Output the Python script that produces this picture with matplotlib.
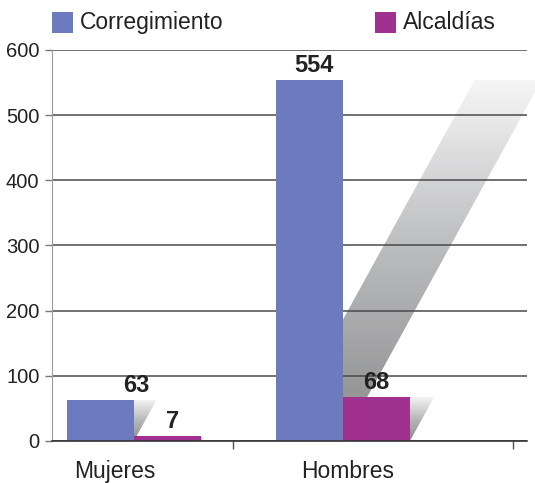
import numpy as np
import matplotlib.pyplot as plt
from matplotlib.patches import Polygon, Rectangle
from matplotlib.colors import LinearSegmentedColormap

# --- data ---
categories = ['Mujeres', 'Hombres']
series_names = ['Corregimiento', 'Alcaldías']
corregimiento = [63, 554]
alcaldias = [7, 68]
y_ticks = [0, 100, 200, 300, 400, 500, 600]

colors = ['#6b7bbd', '#a0318e']
# small nudges (points) for the value labels, as in the original
label_nudge = [[26, 4], [3, 0]]

plt.rcParams['font.family'] = ['Liberation Sans', 'DejaVu Sans']

fig = plt.figure(figsize=(5.35, 4.83), dpi=100)
W, H = 535, 483
ax = fig.add_axes([52 / W, (H - 441) / H, 475 / W, 391 / H])

x = np.arange(len(categories))
bw = 0.32
ax.set_xlim(-0.392, 1.88)
ax.set_ylim(0, 600)

# shear of the slanted shadow (data-x per data-y unit)
shear = 0.55 * (391 / 600) / 209
shadow_cmap = LinearSegmentedColormap.from_list('sh', ['#858585', '#b4b5b7', '#f6f6f6'])
grad = np.linspace(0, 1, 256).reshape(-1, 1)

for si, vals in enumerate([corregimiento, alcaldias]):
    for ci, v in enumerate(vals):
        x0 = x[ci] - bw + si * bw
        # shadow
        dx = shear * v
        poly = Polygon([(x0, 0), (x0 + bw, 0), (x0 + bw + dx, v), (x0 + dx, v)],
                       closed=True, facecolor='none', edgecolor='none')
        ax.add_patch(poly)
        im = ax.imshow(grad, cmap=shadow_cmap, origin='lower', aspect='auto',
                       extent=(x0, x0 + bw + dx, 0, v), zorder=1, alpha=0.95)
        im.set_clip_path(poly)
        im.set_clip_box(fig.bbox)
        # bar
        ax.bar(x0, v, width=bw, align='edge', color=colors[si], zorder=2)
        # value label
        nx = label_nudge[ci][si]
        ax.annotate(str(v), (x0 + bw / 2, v), xytext=(nx, 5.8), textcoords='offset points',
                    ha='center', va='baseline', fontsize=17, fontweight='bold',
                    color='#222222', zorder=4)

ax.set_xlim(-0.392, 1.88)
ax.set_ylim(0, 600)

# grid and axes
ax.set_yticks(y_ticks)
ax.set_yticklabels([str(t) for t in y_ticks], fontsize=14.5, color='#222222')
ax.yaxis.grid(True, color='#4a4a4a', linewidth=1.1, zorder=1.5)
ax.set_axisbelow('line')
ax.tick_params(axis='y', length=5, width=1, color='#777777', pad=4)

ax.set_xticks([-0.09, 1.02])
ax.set_xticklabels(categories, fontsize=16.5, color='#222222')
ax.set_xticks([(233 - 134) / 209, (513 - 134) / 209], minor=True)
ax.tick_params(axis='x', which='major', length=0, pad=14)
ax.tick_params(axis='x', which='minor', length=6, width=1, color='#555555')

for s in ['top', 'right']:
    ax.spines[s].set_visible(False)
ax.spines['left'].set_color('#9a9a9a')
ax.spines['bottom'].set_color('#333333')
ax.spines['bottom'].set_linewidth(1.2)
ax.spines['bottom'].set_zorder(3)

# legend drawn across the top
leg_x = [52, 375]
for i, name in enumerate(series_names):
    fig.patches.append(Rectangle((leg_x[i] / W, (H - 33) / H), 21 / W, 21 / H,
                                 transform=fig.transFigure, facecolor=colors[i],
                                 edgecolor='none'))
    fig.text((leg_x[i] + 28) / W, (H - 22.5) / H, name, fontsize=16.5,
             va='center', ha='left', color='#222222')

fig.savefig('out.png', dpi=100)
